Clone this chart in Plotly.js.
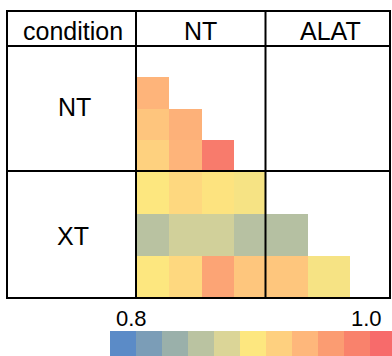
<!DOCTYPE html>
<html>
<head>
<meta charset="utf-8">
<script src="https://cdn.plot.ly/plotly-3.0.1.min.js"></script>
<style>html,body{margin:0;padding:0;background:#fff;}#chart{width:392px;height:356px;}</style>
</head>
<body>
<div id="chart"></div>
<script>
// ---- data ----
const headerLabels = ["condition", "NT", "ALAT"];
const rowLabels = ["NT", "XT"];
// NT row / NT column block (4x4, lower triangle)
const ntNtValues = [
  [null, null, null, null],
  [0.955, null, null, null],
  [0.939, 0.958, null, null],
  [0.927, 0.955, 1.009, null]
];
// XT row / NT column block (3x4)
const xtNtValues = [
  [0.904, 0.920, 0.908, 0.899],
  [0.854, 0.872, 0.872, 0.853],
  [0.904, 0.920, 0.970, 0.938]
];
// XT row / ALAT column block (3x3, lower triangle)
const xtAlatValues = [
  [null, null, null],
  [0.851, null, null],
  [0.938, 0.899, null]
];
const paletteColors = ["#5b8bc7", "#7b9db7", "#9ab0aa", "#bac3a1", "#dbd597", "#fde77f",
                       "#fed07f", "#feb77b", "#fb9c72", "#f9826c", "#f76b6b"];
const scaleMin = 0.782, scaleMax = 1.0255;
const colorbarTicks = [0.8, 1.0];
const colorbarTickText = ["0.8", "1.0"];

// ---- build ----
const W = 392, H = 356;
const px = x => x / W;
const py = y => 1 - y / H;

const contScale = paletteColors.map((c, i) => [i / (paletteColors.length - 1), c]);
const discScale = [];
paletteColors.forEach((c, i) => {
  discScale.push([i / paletteColors.length, c]);
  discScale.push([(i + 1) / paletteColors.length, c]);
});

function hm(z, xa, ya) {
  return {
    type: "heatmap", z: z, xaxis: xa, yaxis: ya,
    colorscale: contScale, zmin: scaleMin, zmax: scaleMax,
    showscale: false, hoverinfo: "skip", xgap: 0, ygap: 0
  };
}

const barLeft = 110, barLen = 286;
const traces = [
  hm(ntNtValues, "x", "y"),
  hm(xtNtValues, "x2", "y2"),
  hm(xtAlatValues, "x3", "y3"),
  {
    type: "scatter", x: [null], y: [null], xaxis: "x", yaxis: "y",
    mode: "markers", hoverinfo: "skip", showlegend: false,
    marker: {
      color: [scaleMin], colorscale: discScale, cmin: scaleMin, cmax: scaleMax,
      showscale: true,
      colorbar: {
        orientation: "h", x: px(barLeft), xanchor: "left", y: 0, yanchor: "bottom",
        len: barLen, lenmode: "pixels", thickness: 25, thicknessmode: "pixels",
        xpad: 0, ypad: 0, outlinewidth: 0, ticks: "", showticklabels: false
      }
    }
  }
];

function ax(domain, n, rev) {
  return {
    domain: domain, range: rev ? [n - 0.5, -0.5] : [-0.5, n - 0.5],
    showgrid: false, zeroline: false, showticklabels: false, ticks: "",
    showline: false, fixedrange: true
  };
}

const colNTx = [px(137), px(266)];
const colALx = [px(266), 1];
const rowNTy = [py(171), py(46)];
const rowXTy = [py(298), py(172)];

const lineStyle = {color: "#000", width: 2};
const shapes = [
  {type: "rect", xref: "paper", yref: "paper", x0: px(7), x1: px(390), y0: py(11), y1: py(298), line: lineStyle, layer: "above"},
  {type: "line", xref: "paper", yref: "paper", x0: px(7), x1: px(390), y0: py(46), y1: py(46), line: lineStyle, layer: "above"},
  {type: "line", xref: "paper", yref: "paper", x0: px(7), x1: px(390), y0: py(171), y1: py(171), line: lineStyle, layer: "above"},
  {type: "line", xref: "paper", yref: "paper", x0: px(136), x1: px(136), y0: py(11), y1: py(298), line: lineStyle, layer: "above"},
  {type: "line", xref: "paper", yref: "paper", x0: px(265.5), x1: px(265.5), y0: py(11), y1: py(298), line: lineStyle, layer: "above"}
];

const font = {family: "Liberation Sans, Arial, sans-serif", size: 25, color: "#000"};
function ann(text, x, y, f) {
  return {text: text, xref: "paper", yref: "paper", x: px(x), y: py(y),
          xanchor: "center", yanchor: "middle", showarrow: false, font: f || font};
}
// colorbar tick labels placed above the bar at their value positions
const tickFont = {family: "Liberation Sans, Arial, sans-serif", size: 22, color: "#000"};
const valToPx = v => barLeft + (v - scaleMin) / (scaleMax - scaleMin) * barLen;

const annotations = [
  ann(headerLabels[0], 73, 31),
  ann(headerLabels[1], 200, 31),
  ann(headerLabels[2], 330, 31),
  ann(rowLabels[0], 74, 107),
  ann(rowLabels[1], 73, 236)
].concat(colorbarTicks.map((v, i) => ann(colorbarTickText[i], valToPx(v), 318, tickFont)));

const layout = {
  width: W, height: H,
  margin: {l: 0, r: 0, t: 0, b: 0, pad: 0, autoexpand: false},
  paper_bgcolor: "#fff", plot_bgcolor: "rgba(0,0,0,0)",
  showlegend: false,
  xaxis: ax(colNTx, 4, false), yaxis: ax(rowNTy, 4, true),
  xaxis2: ax(colNTx, 4, false), yaxis2: ax(rowXTy, 3, true),
  xaxis3: ax(colALx, 3, false), yaxis3: ax(rowXTy, 3, true),
  shapes: shapes, annotations: annotations
};
layout.yaxis.anchor = "x"; layout.xaxis.anchor = "y";
layout.xaxis2.anchor = "y2"; layout.yaxis2.anchor = "x2";
layout.xaxis3.anchor = "y3"; layout.yaxis3.anchor = "x3";

Plotly.newPlot("chart", traces, layout, {staticPlot: true, displayModeBar: false});
</script>
</body>
</html>
